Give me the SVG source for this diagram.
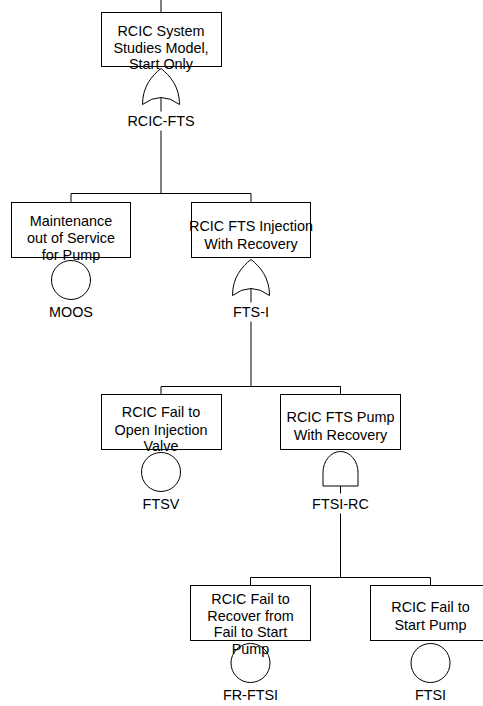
<svg xmlns="http://www.w3.org/2000/svg" xmlns:xlink="http://www.w3.org/1999/xlink" width="483" height="706" viewBox="0 0 483 706">
<style>
.box{fill:#fff;stroke:#000;stroke-width:1}
.gate{fill:#fff;stroke:#000;stroke-width:1}
.ev{fill:none;stroke:#000;stroke-width:1}
.ln{fill:none;stroke:#000;stroke-width:1}
text{font-family:"Liberation Sans",Arial,sans-serif;font-size:14.4px;fill:#000;text-anchor:middle}
</style>
<defs>
<path id="or" class="gate" d="M-18.5,38 C-18.5,20 -9,9 0,2 C9,9 18.5,20 18.5,38 Q0,24 -18.5,38 Z"/>
<path id="and" class="gate" d="M-17.5,36.5 V23 A17.5,21 0 0 1 17.5,23 V36.5 Z"/>
</defs>
<rect width="483" height="706" fill="#fff"/>
<g id="connectors">
<path class="ln" d="M161,0 V12.5"/>
<path class="ln" d="M161,97.5 V111.5 M161,130.5 V193.5 M71,193.5 H251 M71,193.5 V202.5 M251,193.5 V202.5"/>
<path class="ln" d="M251,288.5 V302.5 M251,321.5 V386.5 M161,386.5 H340.5 M161,386.5 V394.5 M340.5,386.5 V394.5"/>
<path class="ln" d="M340.5,486 V493.5 M340.5,513.5 V577.5 M250.5,577.5 H430.5 M250.5,577.5 V585.5 M430.5,577.5 V585.5"/>
</g>
<g id="RCIC-FTS">
<rect class="box" x="101.5" y="12.5" width="120" height="54"/>
<use xlink:href="#or" transform="translate(161,66.5)"/>
<text x="161" y="35.5">RCIC System</text>
<text x="161" y="52.5">Studies Model,</text>
<text x="161" y="69">Start Only</text>
<text x="161" y="126">RCIC-FTS</text>
</g>
<g id="MOOS">
<rect class="box" x="11.5" y="202.5" width="119" height="55"/>
<circle class="ev" cx="71" cy="280" r="19.5"/>
<text x="71" y="225.5">Maintenance</text>
<text x="71" y="242.5">out of Service</text>
<text x="71" y="259.5">for Pump</text>
<text x="71" y="317">MOOS</text>
</g>
<g id="FTS-I">
<rect class="box" x="191.5" y="202.5" width="119" height="55"/>
<use xlink:href="#or" transform="translate(251,257.5)"/>
<text x="251" y="231">RCIC FTS Injection</text>
<text x="251" y="248.5">With Recovery</text>
<text x="251" y="317">FTS-I</text>
</g>
<g id="FTSV">
<rect class="box" x="101.5" y="394.5" width="120" height="55"/>
<circle class="ev" cx="161" cy="472" r="19.5"/>
<text x="161" y="417">RCIC Fail to</text>
<text x="161" y="434.5">Open Injection</text>
<text x="161" y="451">Valve</text>
<text x="161" y="509">FTSV</text>
</g>
<g id="FTSI-RC">
<rect class="box" x="280.5" y="394.5" width="120" height="55"/>
<use xlink:href="#and" transform="translate(340.5,449.5)"/>
<text x="340.5" y="422">RCIC FTS Pump</text>
<text x="340.5" y="439.5">With Recovery</text>
<text x="340.5" y="509">FTSI-RC</text>
</g>
<g id="FR-FTSI">
<rect class="box" x="190.5" y="585.5" width="120" height="55"/>
<circle class="ev" cx="250.5" cy="663" r="19.5"/>
<text x="250.5" y="604">RCIC Fail to</text>
<text x="250.5" y="620.5">Recover from</text>
<text x="250.5" y="637">Fail to Start</text>
<text x="250.5" y="654">Pump</text>
<text x="250.5" y="700">FR-FTSI</text>
</g>
<g id="FTSI">
<rect class="box" x="370.5" y="585.5" width="120" height="55"/>
<circle class="ev" cx="430.5" cy="663" r="19.5"/>
<text x="430.5" y="611.5">RCIC Fail to</text>
<text x="430.5" y="630">Start Pump</text>
<text x="430.5" y="700">FTSI</text>
</g>
</svg>
